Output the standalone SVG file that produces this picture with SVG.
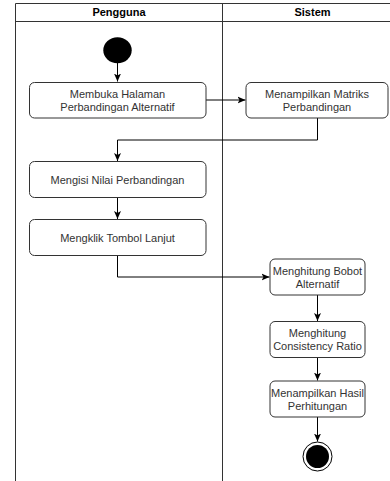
<svg xmlns="http://www.w3.org/2000/svg" width="390" height="481" viewBox="0 0 390 481">
<style>
.lane{fill:none;stroke:#333;stroke-width:1}
.node rect{fill:#fff;stroke:#333;stroke-width:1}
.t{font-family:"Liberation Sans",Arial,sans-serif;font-size:11px;fill:#333;text-anchor:middle}
.h{font-family:"Liberation Sans",Arial,sans-serif;font-size:11px;font-weight:bold;fill:#000;text-anchor:middle}
.c{fill:none;stroke:#000;stroke-width:1}
</style>
<defs>
<marker id="arr" markerUnits="userSpaceOnUse" markerWidth="8" markerHeight="8" refX="8" refY="4" orient="auto">
<path d="M0,0.5 L8,4 L0,7.5 L2,4 Z" fill="#000"/>
</marker>
</defs>
<g id="lanes">
<path class="lane" d="M15.5,481 V3.5 H390 M15.5,21.5 H390 M222.5,3.5 V481"/>
<text class="h" x="119" y="16">Pengguna</text>
<text class="h" x="312.5" y="16">Sistem</text>
</g>
<g id="connectors">
<path class="c" d="M117.5,63 V81.5" marker-end="url(#arr)"/>
<path class="c" d="M206,100 H245.5" marker-end="url(#arr)"/>
<path class="c" d="M317.5,118 V140 H117.5 V161" marker-end="url(#arr)"/>
<path class="c" d="M117.5,197.5 V219" marker-end="url(#arr)"/>
<path class="c" d="M117.5,255.5 V277 H269.5" marker-end="url(#arr)"/>
<path class="c" d="M317.5,295 V321" marker-end="url(#arr)"/>
<path class="c" d="M317.5,357.5 V380.5" marker-end="url(#arr)"/>
<path class="c" d="M317.5,417 V441.5" marker-end="url(#arr)"/>
</g>
<g id="start"><ellipse cx="117.5" cy="50.3" rx="14.2" ry="13" fill="#000"/></g>
<g id="n1" class="node"><rect x="29.5" y="82.5" width="176.5" height="35.5" rx="5"/>
<text class="t" x="117.5" y="97.5">Membuka Halaman</text><text class="t" x="117.5" y="110.5">Perbandingan Alternatif</text></g>
<g id="n2" class="node"><rect x="246" y="82.5" width="142" height="35.5" rx="5"/>
<text class="t" x="317" y="97.5">Menampilkan Matriks</text><text class="t" x="317" y="110.5">Perbandingan</text></g>
<g id="n3" class="node"><rect x="29.5" y="161.5" width="176.5" height="36" rx="5"/>
<text class="t" x="117.5" y="183.5">Mengisi Nilai Perbandingan</text></g>
<g id="n4" class="node"><rect x="29.5" y="219.5" width="176.5" height="36" rx="5"/>
<text class="t" x="117.5" y="241.5">Mengklik Tombol Lanjut</text></g>
<g id="n5" class="node"><rect x="270" y="259" width="95" height="36" rx="5"/>
<text class="t" x="317.5" y="274.5">Menghitung Bobot</text><text class="t" x="317.5" y="287.5">Alternatif</text></g>
<g id="n6" class="node"><rect x="270" y="321.5" width="95" height="36" rx="5"/>
<text class="t" x="317.5" y="337">Menghitung</text><text class="t" x="317.5" y="350">Consistency Ratio</text></g>
<g id="n7" class="node"><rect x="270" y="381" width="95" height="36" rx="5"/>
<text class="t" x="317.5" y="396.5">Menampilkan Hasil</text><text class="t" x="317.5" y="409.5">Perhitungan</text></g>
<g id="end"><circle cx="317.5" cy="456.5" r="14.5" fill="#fff" stroke="#000" stroke-width="1"/><circle cx="317.5" cy="456.5" r="11.5" fill="#000"/></g>
</svg>
